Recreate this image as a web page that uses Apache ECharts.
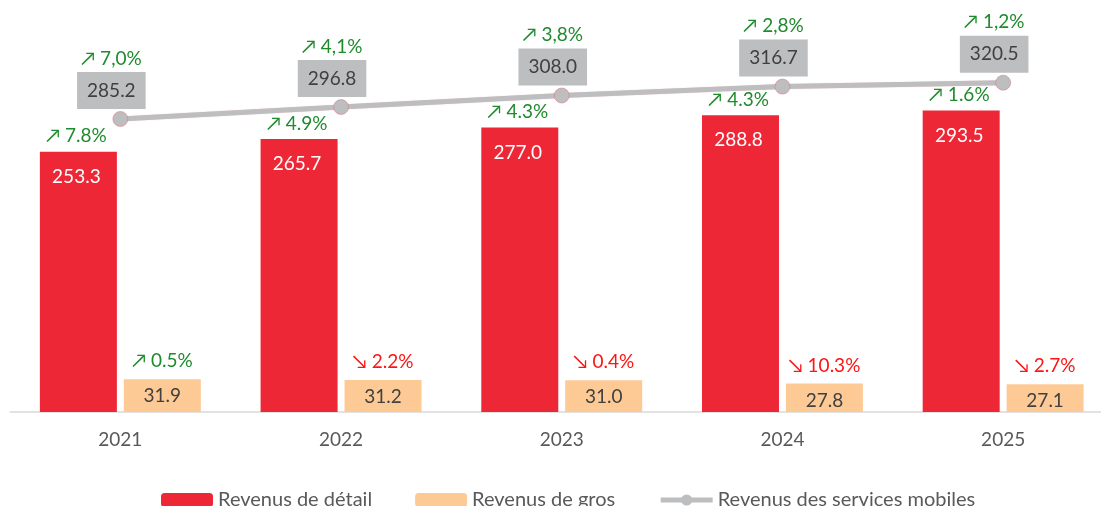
<!DOCTYPE html>
<html>
<head>
<meta charset="utf-8">
<script src="https://cdn.jsdelivr.net/npm/echarts@6/dist/echarts.min.js"></script>
<style>
  html, body { margin: 0; padding: 0; background: #fff; }
  #chart { width: 1101px; height: 506px; }
</style>
</head>
<body>
<div id="chart"></div>
<script>
// data
const years = ["2021", "2022", "2023", "2024", "2025"];
const retail = [253.3, 265.7, 277.0, 288.8, 293.5];
const wholesale = [31.9, 31.2, 31.0, 27.8, 27.1];
const mobile = [285.2, 296.8, 308.0, 316.7, 320.5];
// growth vs previous year, sign gives the arrow
const retailGrowth = ["+7.8%", "+4.9%", "+4.3%", "+4.3%", "+1.6%"];
const wholesaleGrowth = ["+0.5%", "-2.2%", "-0.4%", "-10.3%", "-2.7%"];
const mobileGrowth = ["+7,0%", "+4,1%", "+3,8%", "+2,8%", "+1,2%"];

const FONT = "Lato";
const GREEN = "#1f8b2c";
const RED_TXT = "#ff1414";
const GREY = "#bdbec0";

function growthTag(s) {
  const up = s[0] === "+";
  return `{${up ? "up" : "down"}|${up ? "↗" : "↘"} ${s.slice(1)}}`;
}

const chart = echarts.init(document.getElementById("chart"));

chart.setOption({
  animation: false,
  textStyle: { fontFamily: FONT },
  grid: { left: 10, right: -12.5, top: 1, bottom: 94, outerBoundsMode: "none" },
  legend: {
    left: 161,
    top: 490,
    padding: 0,
    itemWidth: 52,
    itemHeight: 14,
    itemGap: 43,
    textStyle: { color: "#595959", fontSize: 20, fontFamily: FONT },
    data: [
      "Revenus de détail",
      "Revenus de gros",
      {
        name: "Revenus des services mobiles",
        itemStyle: { color: GREY, borderWidth: 0 },
        lineStyle: { color: GREY, width: 5, shadowBlur: 0 }
      }
    ]
  },
  xAxis: {
    type: "category",
    data: years,
    axisLine: { lineStyle: { color: "#d9d9d9", width: 1.5 } },
    axisTick: { show: false },
    axisLabel: { color: "#595959", fontSize: 19, margin: 18, fontFamily: FONT }
  },
  yAxis: {
    type: "value",
    min: 0,
    max: 400,
    show: false,
    splitLine: { show: false }
  },
  series: [
    {
      name: "Revenus de détail",
      type: "bar",
      barWidth: 77,
      barGap: "9%",
      itemStyle: { color: "#ee2737" },
      data: retail,
      label: {
        show: true,
        position: "top",
        distance: 0,
        offset: [-2, 45],
        formatter: (p) => `${growthTag(retailGrowth[p.dataIndex])}\n{v|${p.value.toFixed(1)}}`,
        rich: {
          up: { color: GREEN, fontSize: 19, lineHeight: 41, fontFamily: FONT },
          down: { color: RED_TXT, fontSize: 19, lineHeight: 41, fontFamily: FONT },
          v: { color: "#fff", fontSize: 19, lineHeight: 40, fontFamily: FONT }
        }
      }
    },
    {
      name: "Revenus de gros",
      type: "bar",
      barWidth: 77,
      itemStyle: { color: "#fdca95" },
      data: wholesale,
      label: {
        show: true,
        position: "top",
        distance: 0,
        offset: [0, 34],
        formatter: (p) => `${growthTag(wholesaleGrowth[p.dataIndex])}\n{v|${p.value.toFixed(1)}}`,
        rich: {
          up: { color: GREEN, fontSize: 19, lineHeight: 36, fontFamily: FONT },
          down: { color: RED_TXT, fontSize: 19, lineHeight: 36, fontFamily: FONT },
          v: { color: "#404040", fontSize: 19, lineHeight: 34, fontFamily: FONT }
        }
      }
    },
    {
      name: "Revenus des services mobiles",
      type: "line",
      symbol: "circle",
      symbolSize: 15,
      itemStyle: { color: GREY, borderColor: "rgba(225,110,120,0.5)", borderWidth: 1 },
      lineStyle: {
        color: GREY,
        width: 5,
        shadowColor: "rgba(225,60,70,0.3)",
        shadowBlur: 1
      },
      data: mobile,
      label: {
        show: true,
        position: "top",
        distance: 10.5,
        offset: [-9, 0],
        formatter: (p) => `${growthTag(mobileGrowth[p.dataIndex])}\n{v|${p.value.toFixed(1)}}`,
        rich: {
          up: { color: GREEN, fontSize: 19, lineHeight: 44, fontFamily: FONT },
          down: { color: RED_TXT, fontSize: 19, lineHeight: 44, fontFamily: FONT },
          v: {
            color: "#404040",
            fontSize: 19,
            lineHeight: 20,
            fontFamily: FONT,
            backgroundColor: GREY,
            padding: [9, 10, 9, 10]
          }
        }
      }
    }
  ]
});
</script>
</body>
</html>
